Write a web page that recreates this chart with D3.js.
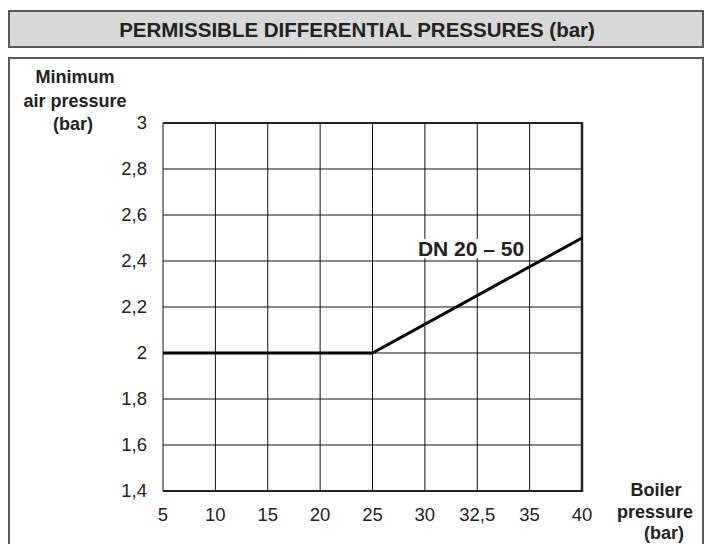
<!DOCTYPE html>
<html><head><meta charset="utf-8">
<script src="https://cdn.jsdelivr.net/npm/d3@7"></script>
<style>body{margin:0;background:#fff}svg{display:block}text{font-family:"Liberation Sans",Arial,sans-serif}</style>
</head><body><div id="chart"></div>
<script>
const xTickLabels = ["5","10","15","20","25","30","32,5","35","40"];
const xTickValues = [5,10,15,20,25,30,32.5,35,40];
const yTickValues = [1.4,1.6,1.8,2,2.2,2.4,2.6,2.8,3];
const seriesX = [5,25,40];
const seriesY = [2,2,2.5];
const seriesName = "DN 20 \u2013 50";

const W=712,H=544;
const svg=d3.select("#chart").append("svg").attr("width",W).attr("height",H);

svg.append("rect").attr("x",9).attr("y",11).attr("width",694).attr("height",36)
  .attr("fill","#d9d9d9").attr("stroke","#595959").attr("stroke-width",2);
svg.append("text").attr("x",357).attr("y",37).attr("text-anchor","middle")
  .attr("font-size",20.5).attr("font-weight","bold").attr("fill","#222")
  .text("PERMISSIBLE DIFFERENTIAL PRESSURES (bar)");
svg.append("rect").attr("x",9).attr("y",58).attr("width",694).attr("height",500)
  .attr("fill","#fff").attr("stroke","#595959").attr("stroke-width",2);

const L=163,R=582,T=123,B=491;
const xi = d3.scaleLinear().domain([0,xTickValues.length-1]).range([L,R]);
const idx = d3.scaleLinear().domain(xTickValues).range(d3.range(xTickValues.length));
const xPos = v => xi(idx(v));
const y=d3.scaleLinear().domain([1.4,3]).range([B,T]);

const g=svg.append("g");
g.selectAll("line.v").data(xTickValues).join("line")
  .attr("x1",d=>xPos(d)).attr("x2",d=>xPos(d)).attr("y1",T).attr("y2",B)
  .attr("stroke","#111").attr("stroke-width",1);
g.selectAll("line.h").data(yTickValues).join("line")
  .attr("x1",L).attr("x2",R).attr("y1",d=>y(d)).attr("y2",d=>y(d))
  .attr("stroke","#111").attr("stroke-width",1);
g.append("line").attr("x1",L).attr("x2",R).attr("y1",T).attr("y2",T).attr("stroke","#222").attr("stroke-width",2);
g.append("line").attr("x1",R).attr("x2",R).attr("y1",T-1).attr("y2",B+1).attr("stroke","#222").attr("stroke-width",2.5);
g.append("line").attr("x1",L).attr("x2",R).attr("y1",B).attr("y2",B).attr("stroke","#222").attr("stroke-width",2);

const fmt=d=>String(+d.toFixed(1)).replace(".",",");
g.selectAll("text.yt").data(yTickValues).join("text")
  .attr("x",147).attr("y",d=>y(d)+6).attr("text-anchor","end")
  .attr("font-size",18.5).attr("fill","#222").text(fmt);
g.selectAll("text.xt").data(xTickValues).join("text")
  .attr("x",d=>xPos(d)).attr("y",521).attr("text-anchor","middle")
  .attr("font-size",18.5).attr("fill","#222").text((d,i)=>xTickLabels[i]);

const yt=svg.append("text").attr("font-size",18).attr("font-weight","bold").attr("fill","#222").attr("text-anchor","middle");
[["Minimum",75,83],["air pressure",75,107],["(bar)",73,130]].forEach(([t,x,yy])=>yt.append("tspan").attr("x",x).attr("y",yy).text(t));
const xt=svg.append("text").attr("font-size",18).attr("font-weight","bold").attr("fill","#222").attr("text-anchor","middle");
[["Boiler",656,496],["pressure",655,518],["(bar)",664,539]].forEach(([t,x,yy])=>xt.append("tspan").attr("x",x).attr("y",yy).text(t));

const line=d3.line().x((d,i)=>xPos(seriesX[i])).y(d=>y(d));
g.append("path").datum(seriesY).attr("d",line).attr("fill","none")
  .attr("stroke","#000").attr("stroke-width",3);

const lbl=g.append("text").attr("x",471).attr("y",256).attr("text-anchor","middle")
  .attr("font-size",21).attr("font-weight","bold").attr("fill","#222").text(seriesName);
const bb=lbl.node().getBBox();
g.append("rect").attr("x",bb.x-1).attr("y",bb.y+2).attr("width",bb.width+2).attr("height",bb.height-4).attr("fill","#fff");
lbl.raise();
</script></body></html>
